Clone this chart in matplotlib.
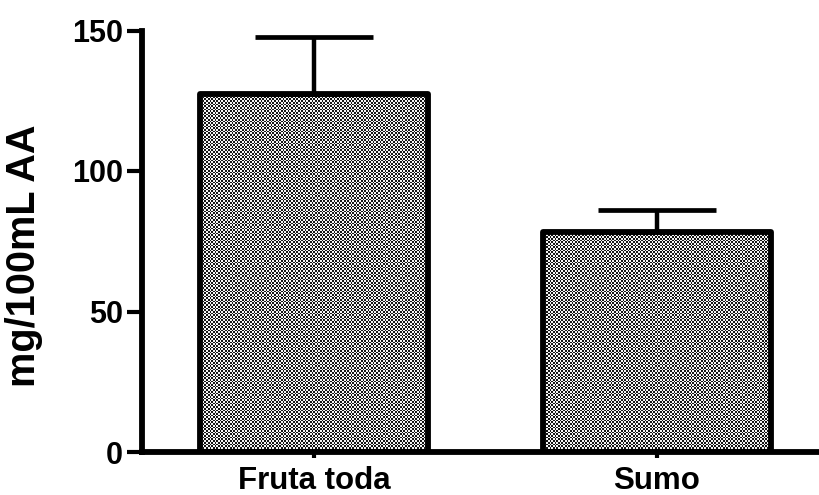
import numpy as np
import matplotlib
matplotlib.use("Agg")
import matplotlib.pyplot as plt

# Ascorbic acid content (mg/100 mL), mean and upper error
categories = ["Fruta toda", "Sumo"]
means = [127.4, 78.2]
errors = [20.2, 7.8]
y_ticks = [0, 50, 100, 150]
y_label = "mg/100mL AA"

W, H, DPI = 820, 495, 100
plt.rcParams["font.family"] = ["Liberation Sans", "DejaVu Sans"]
plt.rcParams["font.weight"] = "bold"

fig = plt.figure(figsize=(W / DPI, H / DPI), dpi=DPI, facecolor="white")
ax = fig.add_axes([142.3 / W, 43 / H, 1 - 142.3 / W, (452 - 30.5) / H])
ax.patch.set_visible(False)

x = np.arange(len(categories))
bars = ax.bar(x, means, width=0.665, facecolor="none", edgecolor="black",
              linewidth=4.2, joinstyle="round", zorder=3)
ax.errorbar(x, means, yerr=[np.zeros(len(errors)), errors], fmt="none",
            ecolor="black", elinewidth=3.2, capsize=42.5, capthick=3.4,
            zorder=2)

# fine checkered fill inside each bar, aligned to device pixels
yy, xx = np.mgrid[0:H, 0:W]
cells = (np.floor(xx / 1.7) + np.floor(yy / 1.7)) % 2
tex = np.where(cells == 0, 0.08, 0.96)
rgb = np.dstack([tex, tex, tex])
for b in bars:
    im = fig.figimage(rgb, xo=0, yo=0, origin="lower", zorder=-1)
    im.set_clip_path(b)

ax.set_xlim(-0.5006, 1.475)
ax.set_ylim(0, 150)
ax.set_yticks(y_ticks)
ax.set_xticks(x)
ax.set_xticklabels(categories, fontsize=22.5)
ax.set_ylabel(y_label, fontsize=28.5, fontweight="bold")
ax.yaxis.set_label_coords(43 / W, 1 - 256 / H, transform=fig.transFigure)

for s in ["top", "right"]:
    ax.spines[s].set_visible(False)
for s in ["left", "bottom"]:
    ax.spines[s].set_linewidth(4.2)
    ax.spines[s].set_capstyle("projecting")

ax.tick_params(axis="y", length=11, width=3.0, pad=3, labelsize=22)
ax.tick_params(axis="x", length=4, width=3.0, pad=6)

fig.savefig("out.png", dpi=DPI, facecolor="white")
